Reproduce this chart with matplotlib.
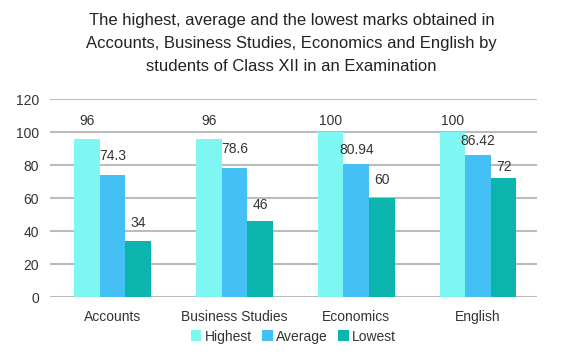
import matplotlib
matplotlib.use("Agg")
import matplotlib.pyplot as plt
import numpy as np

categories = ["Accounts", "Business Studies", "Economics", "English"]
highest = [96, 96, 100, 100]
average = [74.3, 78.6, 80.94, 86.42]
lowest = [34, 46, 60, 72]
labels_high = ["96", "96", "100", "100"]
labels_avg = ["74.3", "78.6", "80.94", "86.42"]
labels_low = ["34", "46", "60", "72"]
series_names = ["Highest", "Average", "Lowest"]
yticks = [0, 20, 40, 60, 80, 100, 120]

# label gap above bar (in points), per series/category (style only)
gaps_high = [8, 8, 3, 3]
gaps_avg = [8, 8.5, 5, 5]
gaps_low = [8, 7, 8, 3]

colors = ["#7EF6F1", "#45C0F5", "#0BB5AE"]
plt.rcParams['font.family'] = ['Liberation Sans', 'DejaVu Sans']

fig = plt.figure(figsize=(5.61, 3.63), dpi=100)
ax = fig.add_axes([0.0891, 0.1818, 0.958 - 0.0891, 0.7264 - 0.1818])

x = np.arange(len(categories))
w = 0.21
series = [highest, average, lowest]
texts = [labels_high, labels_avg, labels_low]
gaps = [gaps_high, gaps_avg, gaps_low]
for i, (vals, txt, gp) in enumerate(zip(series, texts, gaps)):
    pos = x + (i - 1) * w
    ax.bar(pos, vals, width=w, color=colors[i], label=series_names[i], zorder=3)
    for p, v, t, g in zip(pos, vals, txt, gp):
        ax.annotate(t, (p, v), xytext=(0, g), textcoords='offset points',
                    ha='center', va='bottom', fontsize=10, color='#333333', zorder=4)

ax.set_xlim(-0.513, len(categories) - 0.513)
ax.set_ylim(0, 120)
ax.set_yticks(yticks)
ax.set_yticklabels([str(t) for t in yticks], fontsize=10, color='#333333')
ax.set_xticks(x)
ax.set_xticklabels(categories, fontsize=10, color='#333333')
ax.tick_params(axis='both', length=0)
ax.tick_params(axis='y', pad=8)
ax.tick_params(axis='x', pad=9)
ax.grid(axis='y', color='#BBBBBB', linewidth=1.5, zorder=0)
for s in ax.spines.values():
    s.set_visible(False)

fig.text(0.52, 0.963, "The highest, average and the lowest marks obtained in\nAccounts, Business Studies, Economics and English by\nstudents of Class XII in an Examination",
         ha='center', va='top', fontsize=12, color='#222222', linespacing=1.65)

leg = fig.legend(loc='center', bbox_to_anchor=(0.523, 0.073), ncol=3, frameon=False,
                 fontsize=10, handlelength=0.75, handleheight=0.8, handletextpad=0.25,
                 columnspacing=0.75, labelcolor='#333333')

fig.savefig("out.png", dpi=100)
